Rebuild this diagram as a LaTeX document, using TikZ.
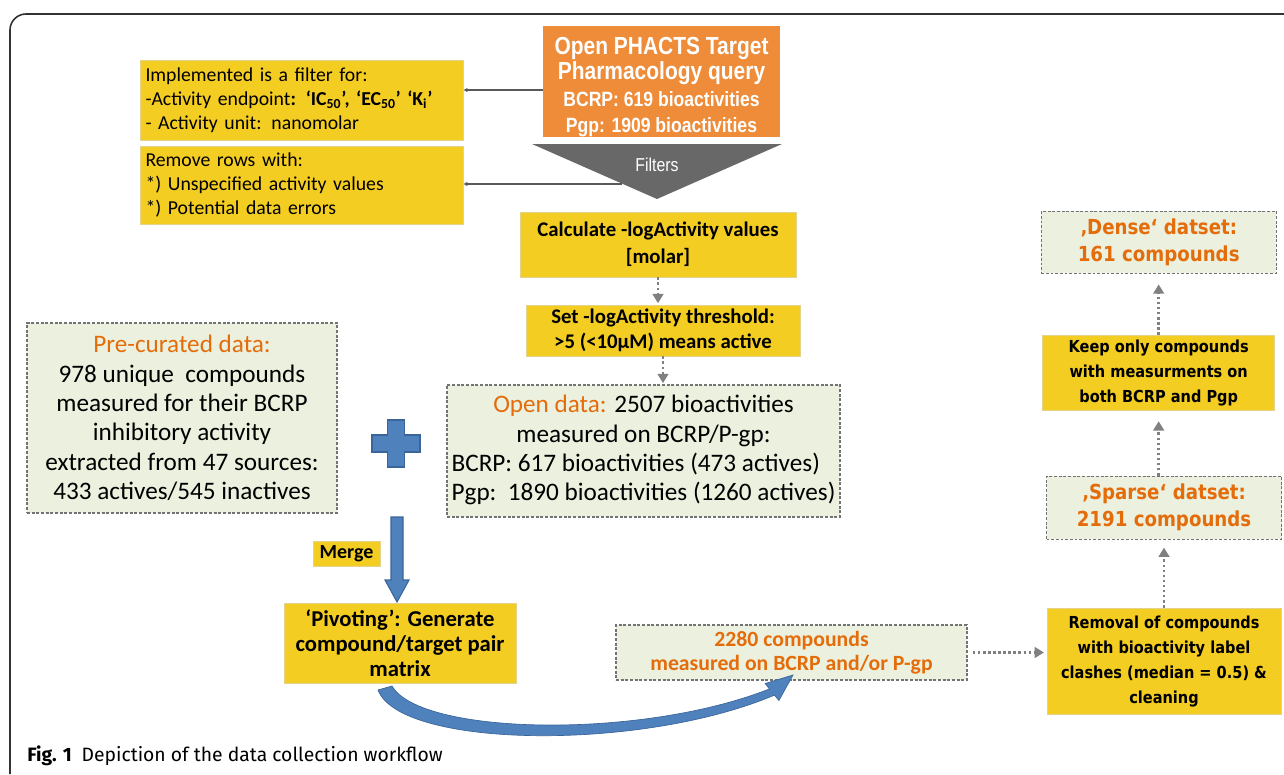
\documentclass[tikz,border=0pt]{standalone}
\usepackage{fontspec}
\setmainfont{Carlito}
\newfontfamily\narrowfont[FakeStretch=0.85]{Liberation Sans}
\newfontfamily\widefont[FakeStretch=0.88]{DejaVu Sans}
\newfontfamily\capfont{Fira Sans}
\usepackage{xcolor}
\usepackage{tikz}
\usetikzlibrary{positioning,calc,arrows.meta}
\definecolor{BoxYellow}{HTML}{F4CD22}
\definecolor{BoxEdge}{HTML}{E3D38C}
\definecolor{BoxOrange}{HTML}{EE8C3A}
\definecolor{TextOrange}{HTML}{E46C0A}
\definecolor{BoxGreen}{HTML}{EBF1DE}
\definecolor{PlusBlue}{HTML}{4F81BD}
\definecolor{PlusEdge}{HTML}{3A659A}
\definecolor{FilterGray}{HTML}{686868}

\begin{document}
\begin{tikzpicture}[x=0.75pt, y=-0.75pt,
                    ybox/.style={draw=BoxEdge, line width=0.6pt, fill=BoxYellow, inner sep=0pt, align=center, text=black},
                    gbox/.style={draw=black!55, dash pattern=on 2.2pt off 1.3pt, line width=0.8pt, fill=BoxGreen,
                                 inner sep=0pt, align=center},
                    obox/.style={fill=BoxOrange, inner sep=0pt, align=center, text=white},
                    feed/.style={draw=black!65, line width=1.4pt, -{Latex[length=3pt,width=3.5pt]}},
                    dotarrow/.style={draw=black!50, line width=1.9pt, dash pattern=on 1.9pt off 1.9pt,
                                     -{Triangle[length=7pt,width=8pt]}}]
\useasboundingbox (0,0) rectangle (1284,774);
\fill[white] (0,0) rectangle (1284,774);
\draw[black!80, line width=1.2pt, rounded corners=12pt] (1284,14) -- (10,14) -- (10,774);

\node[ybox, minimum width=242.25pt, minimum height=60pt, text width=234pt, align=left,
      font=\fontsize{14.8}{18}\selectfont] (endp) at (301.5,100)
  {Implemented is a filter for:\\-Activity endpoint\textbf{: ‘IC\textsubscript{50}’, ‘EC\textsubscript{50}’ ‘K\textsubscript{i}’}\\- Activity unit: nanomolar};
\node[ybox, minimum width=242.25pt, minimum height=58.5pt, text width=234pt, align=left,
      font=\fontsize{14.8}{18}\selectfont] (rows) at (301.5,185)
  {Remove rows with:\\{*}) Unspecified activity values\\{*}) Potential data errors};

\node[obox, minimum width=177.75pt, minimum height=77.25pt, font=\narrowfont\bfseries\fontsize{15.5}{19}\selectfont] (ophacts) at (661.5,81.5)
  {\rule{0pt}{21pt}{\fontsize{18.5}{19}\selectfont Open PHACTS Target}\\{\fontsize{18.5}{19}\selectfont Pharmacology query}\\[1.5pt]BCRP: 619 bioactivities\\Pgp: 1909 bioactivities};
\fill[FilterGray] (532,144) -- (782,144) -- (657,199) -- cycle;
\node[text=white, inner sep=0pt, font=\narrowfont\fontsize{14}{16}\selectfont] (filters) at (657,165) {Filters};
\coordinate (fedge) at (622,184);

\draw[feed] ([yshift=-6.4pt]ophacts.west) -- ([yshift=-6.4pt]ophacts.west -| endp.east);
\draw[feed] (fedge) -- (fedge -| rows.east);

\node[ybox, minimum width=207pt, minimum height=48.75pt, font=\bfseries\fontsize{15.6}{20.25}\selectfont] (calc) at (658,244.5)
  {Calculate -logActivity values\\{[molar]}};
\node[ybox, minimum width=205.5pt, minimum height=38.25pt, font=\bfseries\fontsize{15.6}{18.75}\selectfont] (thresh) at (663,330.5)
  {Set -logActivity threshold:\\>5 (<10μM) means active};
\node[gbox, minimum width=294.75pt, minimum height=99pt, font=\fontsize{18.9}{22}\selectfont] (odata) at (643.5,451)
  {\begin{tabular}{@{}l@{}}
   \multicolumn{1}{@{}c@{}}{\textcolor{TextOrange}{Open data:} 2507 bioactivities}\\
   \multicolumn{1}{@{}c@{}}{measured on BCRP/P-gp:}\\
   BCRP: 617 bioactivities (473 actives)\\
   Pgp:\ \ 1890 bioactivities (1260 actives)
   \end{tabular}};
\node[gbox, minimum width=232.5pt, minimum height=142.5pt, font=\fontsize{18.9}{22}\selectfont] (precur) at (182,418)
  {\textcolor{TextOrange}{Pre-curated data:}\\978 unique~ compounds\\measured for their BCRP\\inhibitory activity\\extracted from 47 sources:\\433 actives/545 inactives};

\draw[dotarrow, shorten >=1pt] (calc.south) -- (calc.south |- thresh.north);
\draw[dotarrow, shorten >=1pt] (thresh.south) -- (thresh.south |- odata.north);

\draw[fill=PlusBlue, draw=PlusEdge, line width=0.8pt] (387.5,420) -- (404.5,420) -- (404.5,435) -- (420,435) -- (420,452)
  -- (404.5,452) -- (404.5,467) -- (387.5,467) -- (387.5,452) -- (372,452) -- (372,435) -- (387.5,435) -- cycle;

\node[ybox, minimum width=50.25pt, minimum height=18.75pt, font=\bfseries\fontsize{15}{16}\selectfont] (merge) at (346.5,553.5) {Merge};
\node[ybox, minimum width=174pt, minimum height=60pt, font=\bfseries\fontsize{17}{18.75}\selectfont] (pivot) at (400,643)
  {‘Pivoting’: Generate\\compound/target pair\\matrix};
\draw[fill=PlusBlue, draw=PlusEdge, line width=0.8pt] (391,517) -- (403,517) -- (403,580) -- (409,580) -- (397,602)
  -- (385,580) -- (391,580) -- cycle;

\node[gbox, text=TextOrange, minimum width=263.25pt, minimum height=41.25pt, font=\bfseries\fontsize{16.3}{18}\selectfont] (cmpd) at (791.5,652.5)
  {2280 compounds\\measured on BCRP and/or P-gp};
\draw[fill=PlusBlue, draw=PlusEdge, line width=0.5pt] (392,686) .. controls (420,735) and (640,740) .. (769.5,688.9)
  -- (765.1,683.5) -- (793,675) -- (778.9,700.5) -- (774.5,695.1) .. controls (640,752) and (400,748) .. (378,690) -- cycle;

\node[ybox, minimum width=175.5pt, minimum height=79.5pt, font=\widefont\bfseries\fontsize{12.4}{18.75}\selectfont] (removal) at (1164,661)
  {Removal of compounds\\with bioactivity label\\clashes (median = 0.5) \&\\cleaning};
\node[gbox, text=TextOrange, minimum width=176.25pt, minimum height=47.25pt, font=\widefont\bfseries\fontsize{15.5}{20.5}\selectfont,
      above=51pt of removal] (sparse) {‚Sparse‘ datset:\\2191 compounds};
\node[ybox, minimum width=174pt, minimum height=56.25pt, font=\widefont\bfseries\fontsize{12.4}{18.75}\selectfont,
      above=48.75pt of sparse, xshift=-4pt] (keep) {Keep only compounds\\with measurments on\\both BCRP and Pgp};
\node[gbox, text=TextOrange, minimum width=176.25pt, minimum height=46.5pt, font=\widefont\bfseries\fontsize{15.5}{20.5}\selectfont,
      above=45.75pt of keep] (dense) {‚Dense‘ datset:\\161 compounds};

\draw[dotarrow, shorten <=4pt, shorten >=2pt] (cmpd.east) -- (cmpd.east -| removal.west);
\draw[dotarrow, shorten >=6pt] (removal.north) -- (removal.north |- sparse.south);
\draw[dotarrow, shorten >=8pt] (sparse.north -| keep.south) -- (keep.south);
\draw[dotarrow, shorten >=8pt] (keep.north) -- (dense.south);

\node[anchor=west, inner sep=0pt, font=\capfont\fontsize{14.5}{16}\selectfont] (caption) at (27,756)
  {\textbf{Fig. 1}\enspace Depiction of the data collection workflow};
\end{tikzpicture}
\end{document}
